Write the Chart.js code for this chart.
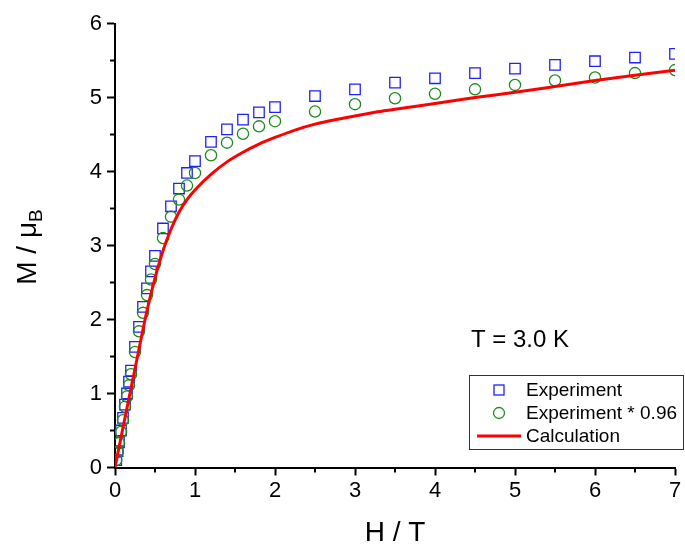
<!DOCTYPE html>
<html>
<head>
<meta charset="utf-8">
<script src="https://cdn.jsdelivr.net/npm/chart.js@4.4.1/dist/chart.umd.min.js"></script>
<style>
  html, body { margin: 0; padding: 0; background: #fff; }
  canvas { display: block; }
</style>
</head>
<body>
<canvas id="chart" width="685" height="548"></canvas>
<script>
// field values (T)
const fieldExp = [0.016, 0.033, 0.05, 0.075, 0.1, 0.125, 0.15, 0.175, 0.2, 0.25, 0.3, 0.35, 0.4, 0.45, 0.5,
                  0.6, 0.7, 0.8, 0.9, 1.0, 1.2, 1.4, 1.6, 1.8, 2.0, 2.5, 3.0, 3.5, 4.0, 4.5, 5.0, 5.5, 6.0, 6.5, 7.0];
// measured magnetisation (muB)
const magExp = [0.10, 0.22, 0.34, 0.50, 0.67, 0.85, 1.00, 1.16, 1.31, 1.63, 1.90, 2.17, 2.42, 2.65, 2.86,
                3.23, 3.53, 3.77, 3.98, 4.14, 4.40, 4.57, 4.70, 4.80, 4.87, 5.02, 5.11, 5.20, 5.26, 5.33, 5.39, 5.44, 5.49, 5.54, 5.59];
// scaled experiment
const magScaled = [0.10, 0.21, 0.33, 0.48, 0.64, 0.82, 0.96, 1.11, 1.26, 1.56, 1.84, 2.09, 2.33, 2.54, 2.75,
                   3.10, 3.39, 3.62, 3.81, 3.98, 4.22, 4.39, 4.51, 4.61, 4.68, 4.81, 4.91, 4.99, 5.05, 5.11, 5.17, 5.23, 5.27, 5.33, 5.37];
// calculated curve
const fieldCalc = [0, 0.1, 0.2, 0.3, 0.4, 0.5, 0.6, 0.7, 0.8, 0.9, 1.0, 1.2, 1.4, 1.6, 1.8, 2.0, 2.25, 2.5, 2.75,
                   3.0, 3.25, 3.5, 4.0, 4.5, 5.0, 5.5, 6.0, 6.5, 7.0];
const magCalc = [0, 0.54, 1.07, 1.60, 2.12, 2.56, 2.93, 3.22, 3.45, 3.62, 3.75, 3.96, 4.13, 4.26, 4.37, 4.46, 4.56, 4.64, 4.70,
                 4.75, 4.80, 4.84, 4.92, 5.00, 5.07, 5.15, 5.23, 5.30, 5.37];

const xTicks = [0, 1, 2, 3, 4, 5, 6, 7];
const yTicks = [0, 1, 2, 3, 4, 5, 6];
const labels = ['Experiment', 'Experiment * 0.96', 'Calculation'];

const FONT = 'Arial, "Liberation Sans", sans-serif';
const BLUE = '#1f1fff';
const GREEN = '#1a8c1a';
const RED = '#ff0000';

const toXY = (xs, ys) => xs.map((x, i) => ({ x: x, y: ys[i] }));

// minor ticks, axis title with subscript, annotation and legend box
const extras = {
    id: 'extras',
    afterDraw(chart) {
        const ctx = chart.ctx;
        const xs = chart.scales.x, ys = chart.scales.y;
        const area = chart.chartArea;
        ctx.save();
        ctx.strokeStyle = '#000';
        ctx.lineWidth = 2;
        for (let v = 0.5; v < 7; v += 1) {
            const px = xs.getPixelForValue(v);
            ctx.beginPath(); ctx.moveTo(px, area.bottom); ctx.lineTo(px, area.bottom + 5); ctx.stroke();
        }
        for (let v = 0.5; v < 6; v += 1) {
            const py = ys.getPixelForValue(v);
            ctx.beginPath(); ctx.moveTo(area.left, py); ctx.lineTo(area.left - 5, py); ctx.stroke();
        }

        // y title, rotated, with subscript B
        ctx.fillStyle = '#000';
        ctx.translate(28, 247);
        ctx.rotate(-Math.PI / 2);
        ctx.font = '28px ' + FONT;
        const main = 'M / \u03bc';
        const wMain = ctx.measureText(main).width;
        ctx.font = '19px ' + FONT;
        const wSub = ctx.measureText('B').width;
        const start = -(wMain + wSub) / 2;
        ctx.textBaseline = 'middle';
        ctx.textAlign = 'left';
        ctx.font = '28px ' + FONT;
        ctx.fillText(main, start, 0);
        ctx.font = '19px ' + FONT;
        ctx.fillText('B', start + wMain, 9);
        ctx.restore();

        ctx.save();
        ctx.fillStyle = '#000';
        ctx.font = '24px ' + FONT;
        ctx.textBaseline = 'middle';
        ctx.fillText('T = 3.0 K', 471, 340);

        // legend box
        ctx.strokeStyle = '#333';
        ctx.lineWidth = 1;
        ctx.fillStyle = '#fff';
        ctx.fillRect(469.5, 375.5, 214, 74);
        ctx.strokeRect(469.5, 375.5, 214, 74);
        const rows = [390, 413, 436];
        ctx.font = '19px ' + FONT;
        ctx.fillStyle = '#000';
        rows.forEach((y, i) => ctx.fillText(labels[i], 526, y + 1));
        ctx.lineWidth = 1.3;
        ctx.strokeStyle = BLUE;
        ctx.strokeRect(494, rows[0] - 5, 10, 10);
        ctx.strokeStyle = GREEN;
        ctx.beginPath(); ctx.arc(499, rows[1], 5.5, 0, Math.PI * 2); ctx.stroke();
        ctx.strokeStyle = RED;
        ctx.lineWidth = 3;
        ctx.beginPath(); ctx.moveTo(477, rows[2]); ctx.lineTo(521, rows[2]); ctx.stroke();
        ctx.restore();
    }
};

new Chart(document.getElementById('chart').getContext('2d'), {
    type: 'scatter',
    data: {
        datasets: [
            {
                label: labels[2],
                data: toXY(fieldCalc, magCalc),
                showLine: true,
                borderColor: RED,
                borderWidth: 3,
                pointRadius: 0,
                cubicInterpolationMode: 'monotone'
            },
            {
                label: labels[1],
                data: toXY(fieldExp, magScaled),
                pointStyle: 'circle',
                pointRadius: 5.6,
                borderColor: GREEN,
                borderWidth: 1.3,
                backgroundColor: 'rgba(0,0,0,0)'
            },
            {
                label: labels[0],
                data: toXY(fieldExp, magExp),
                pointStyle: 'rect',
                pointRadius: 7.4,
                borderColor: BLUE,
                borderWidth: 1.3,
                backgroundColor: 'rgba(0,0,0,0)'
            }
        ]
    },
    options: {
        responsive: false,
        animation: false,
        layout: { padding: { top: 23.5, right: 10, left: 0, bottom: 0 } },
        plugins: {
            legend: { display: false },
            tooltip: { enabled: false }
        },
        scales: {
            x: {
                type: 'linear',
                min: 0,
                max: 7,
                afterFit: s => { s.height = 80.5; },
                afterBuildTicks: s => { s.ticks = xTicks.map(v => ({ value: v })); },
                ticks: { color: '#000', font: { size: 22, family: FONT }, padding: 2 },
                grid: { drawOnChartArea: false, tickLength: 8, tickWidth: 2, tickColor: '#000' },
                border: { color: '#000', width: 2 },
                title: { display: true, text: 'H / T', color: '#000', font: { size: 28, family: FONT, lineHeight: 1 }, padding: { top: 0, bottom: 1 } }
            },
            y: {
                type: 'linear',
                min: 0,
                max: 6,
                afterFit: s => { s.width = 115; },
                afterBuildTicks: s => { s.ticks = yTicks.map(v => ({ value: v })); },
                ticks: { color: '#000', font: { size: 22, family: FONT }, padding: 5 },
                grid: { drawOnChartArea: false, tickLength: 8, tickWidth: 2, tickColor: '#000' },
                border: { color: '#000', width: 2 }
            }
        }
    },
    plugins: [extras]
});
</script>
</body>
</html>
